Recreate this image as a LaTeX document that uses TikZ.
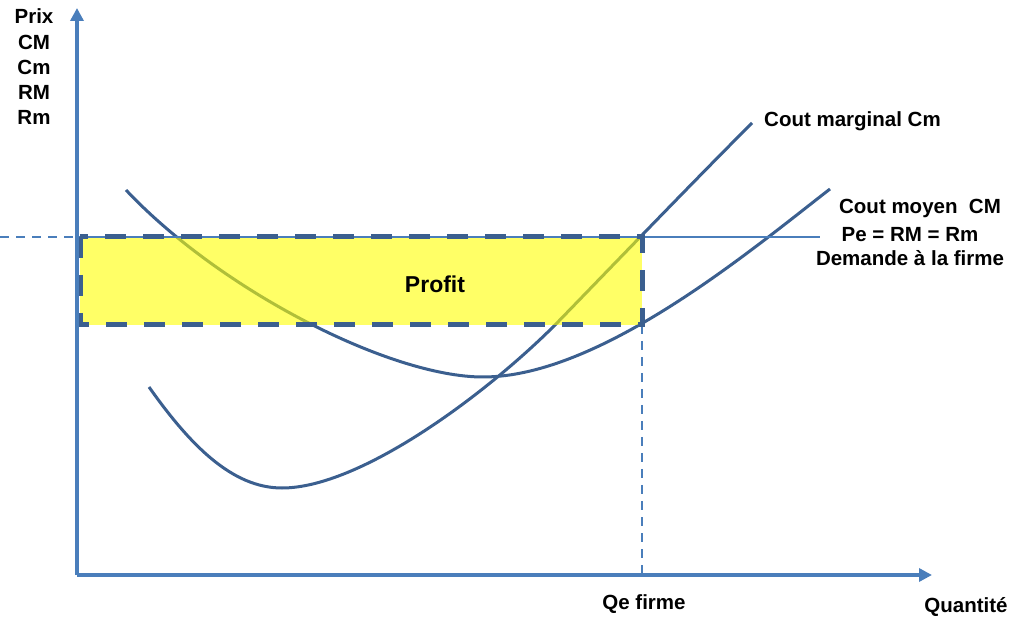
\documentclass[tikz,border=0pt]{standalone}
\usepackage{fontspec}
\setmainfont{Liberation Sans}
\usetikzlibrary{arrows.meta}
\definecolor{axisblue}{HTML}{4A7EBB}
\definecolor{curveblue}{HTML}{3B5F8F}
\definecolor{profityellow}{HTML}{FFFF00}
\tikzset{
  axis/.style={draw=axisblue, line width=3.5pt, -{Triangle[length=13pt,width=13pt]}},
  guide/.style={draw=axisblue, line width=1.2pt, dash pattern=on 9pt off 7pt},
  curve/.style={draw=curveblue, line width=3pt},
  lbl/.style={font=\bfseries\fontsize{20.5}{24}\selectfont, inner sep=0pt, text=black},
  profitbox/.style={draw=curveblue, line width=5pt, dash pattern=on 21pt off 17pt},
}
\begin{document}
\begin{tikzpicture}[x=1pt,y=-1pt]
\useasboundingbox (0,0) rectangle (1026,617);
% curves
\draw[curve] (149,387) .. controls (190,445) and (232,488) .. (282,488)
  .. controls (360,488) and (485,395) .. (555,325)
  .. controls (620,258) and (690,185) .. (752,123);
\draw[curve] (126,190) .. controls (220,290) and (390,377) .. (483,377)
  .. controls (600,377) and (750,251) .. (830,189);
% profit area
\fill[profityellow, opacity=0.6] (80,237) rectangle (642,325);
% price line
\coordinate (pl) at (77,237);
\coordinate (pr) at (820,237);
\coordinate (p0) at (0,237);
\draw[axisblue, line width=2pt] (pl) -- (pr);
\draw[guide] (p0) -- (pl);
% quantity guide
\coordinate (qt) at (642,325);
\coordinate (qb) at (642,575);
\draw[guide] (qt) -- (qb);
% dashed box
\draw[profitbox] (80,237) rectangle (642,325);
% axes
\coordinate (o) at (77,575);
\coordinate (ytop) at (77,8);
\coordinate (xend) at (932,575);
\draw[axis] (o) -- (ytop);
\draw[axis] (o) -- (xend);
% labels
\node[lbl] (prix) at (34,16) {Prix};
\node[lbl] (cmA) at (34,42) {CM};
\node[lbl] (cmB) at (34,67) {Cm};
\node[lbl] (rmA) at (34,92) {RM};
\node[lbl] (rmB) at (34,117) {Rm};
\node[lbl, anchor=west] (cmarg) at (764,121) {Cout marginal Cm};
\node[lbl] (cmoy) at (920,208) {Cout moyen\ \ CM};
\node[lbl] (pe) at (910,235) {Pe = RM = Rm};
\node[lbl] (dem) at (910,258) {Demande à la firme};
\node[lbl, font=\bfseries\fontsize{23}{27}\selectfont] (profit) at (435,284) {Profit};
\node[lbl] (qe) at (644,604) {Qe firme};
\node[lbl] (quant) at (966,607) {Quantité};
\end{tikzpicture}
\end{document}
